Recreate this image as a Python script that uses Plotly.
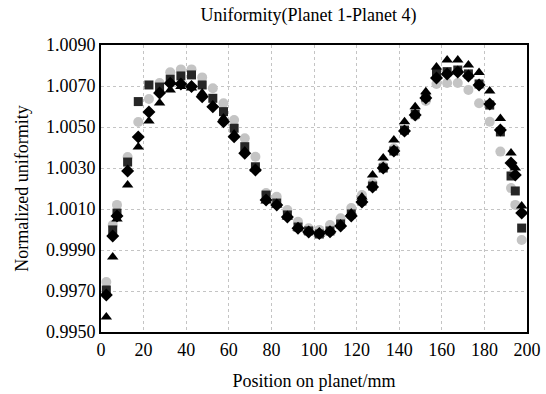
import plotly.graph_objects as go

positions = [2.5, 5.5, 7.5, 12.5, 17.5, 22.5, 27.5, 32.5, 37.5, 42.5, 47.5, 52.5, 57.5, 62.5,
             67.5, 72.5, 77.5, 82.5, 87.5, 92.5, 97.5, 102.5, 107.5, 112.5, 117.5, 122.5, 127.5,
             132.5, 137.5, 142.5, 147.5, 152.5, 157.5, 162.5, 167.5, 172.5, 177.5, 182.5, 187.5,
             192.5, 194.5, 197.5]

planet_circle = [0.99744, 1.00022, 1.00120, 1.00354, 1.00524, 1.00637, 1.00715, 1.00767, 1.00781,
                 1.00781, 1.00742, 1.00689, 1.00616, 1.00534, 1.00445, 1.00355, 1.00178, 1.00160,
                 1.00095, 1.00038, 1.00006, 0.99998, 1.00022, 1.00055, 1.00105, 1.00168, 1.00227,
                 1.00310, 1.00396, 1.00480, 1.00554, 1.00627, 1.00710, 1.00715, 1.00715, 1.00681,
                 1.00616, 1.00526, 1.00380, 1.00202, 1.00120, 0.99949]

planet_square = [0.99705, 0.99998, 1.00080, 1.00329, 1.00624, 1.00705, 1.00695, 1.00733, 1.00749,
                 1.00754, 1.00705, 1.00640, 1.00575, 1.00494, 1.00404, 1.00306, 1.00168, 1.00129,
                 1.00071, 1.00012, 0.99993, 0.99978, 0.99993, 1.00027, 1.00076, 1.00139, 1.00212,
                 1.00300, 1.00383, 1.00485, 1.00563, 1.00646, 1.00762, 1.00770, 1.00778, 1.00759,
                 1.00710, 1.00607, 1.00476, 1.00261, 1.00188, 1.00007]

planet_diamond = [0.99681, 0.99968, 1.00066, 1.00285, 1.00451, 1.00573, 1.00666, 1.00713, 1.00710,
                  1.00697, 1.00648, 1.00599, 1.00526, 1.00453, 1.00372, 1.00290, 1.00144, 1.00120,
                  1.00061, 1.00006, 0.99988, 0.99981, 0.99989, 1.00017, 1.00066, 1.00134, 1.00207,
                  1.00300, 1.00383, 1.00480, 1.00559, 1.00641, 1.00739, 1.00759, 1.00768, 1.00749,
                  1.00705, 1.00612, 1.00485, 1.00324, 1.00266, 1.00080]

planet_triangle = [0.99573, 0.99866, 1.00051, 1.00217, 1.00402, 1.00529, 1.00617, 1.00681, 1.00697,
                   1.00690, 1.00666, 1.00607, 1.00544, 1.00466, 1.00383, 1.00295, 1.00139, 1.00120,
                   1.00061, 1.00007, 0.99989, 0.99978, 0.99993, 1.00027, 1.00080, 1.00159, 1.00266,
                   1.00349, 1.00437, 1.00526, 1.00599, 1.00672, 1.00793, 1.00827, 1.00827, 1.00802,
                   1.00766, 1.00676, 1.00542, 1.00373, 1.00300, 1.00115]

x_ticks = [0, 20, 40, 60, 80, 100, 120, 140, 160, 180, 200]
y_ticks = [0.9950, 0.9970, 0.9990, 1.0010, 1.0030, 1.0050, 1.0070, 1.0090]

FONT = "Liberation Serif, Times New Roman, serif"

fig = go.Figure()
series = [
    ("Planet 1", planet_circle, "circle", "#c4c4c4", 10),
    ("Planet 2", planet_square, "square", "#262626", 9),
    ("Planet 3", planet_diamond, "diamond", "#000000", 10),
    ("Planet 4", planet_triangle, "triangle-up", "#000000", 10),
]
for name, vals, sym, col, size in series:
    fig.add_trace(go.Scatter(x=positions, y=vals, mode="markers", name=name,
                             marker=dict(symbol=sym, color=col, size=size, line=dict(width=0)),
                             cliponaxis=False))

fig.update_layout(
    width=546, height=394,
    margin=dict(l=101, r=19, t=45, b=62),
    paper_bgcolor="white", plot_bgcolor="white",
    showlegend=False,
    font=dict(family=FONT, color="black", size=17),
    title=dict(text="Uniformity(Planet 1-Planet 4)", x=0.565, xanchor="center", y=0.962,
               yanchor="middle", font=dict(family=FONT, size=18)),
)
fig.update_xaxes(range=[0, 200], tickvals=x_ticks, ticktext=[str(t) for t in x_ticks],
                 showgrid=True, gridcolor="#c4c4c4", griddash="dot", gridwidth=1,
                 showline=True, linecolor="black", linewidth=2, mirror=True,
                 ticks="", zeroline=False, automargin=False,
                 title=dict(text="Position on planet/mm", font=dict(size=18), standoff=16),
                 tickfont=dict(size=18))
fig.update_yaxes(range=[0.9950, 1.0090], tickvals=y_ticks, ticktext=[f"{t:.4f}" for t in y_ticks],
                 showgrid=True, gridcolor="#c4c4c4", griddash="dot", gridwidth=1,
                 showline=True, linecolor="black", linewidth=2, mirror=True,
                 ticks="", zeroline=False, automargin=False,
                 title=dict(text="Normalized uniformity", font=dict(size=18), standoff=13),
                 tickfont=dict(size=18))

fig.write_html("out.html")
